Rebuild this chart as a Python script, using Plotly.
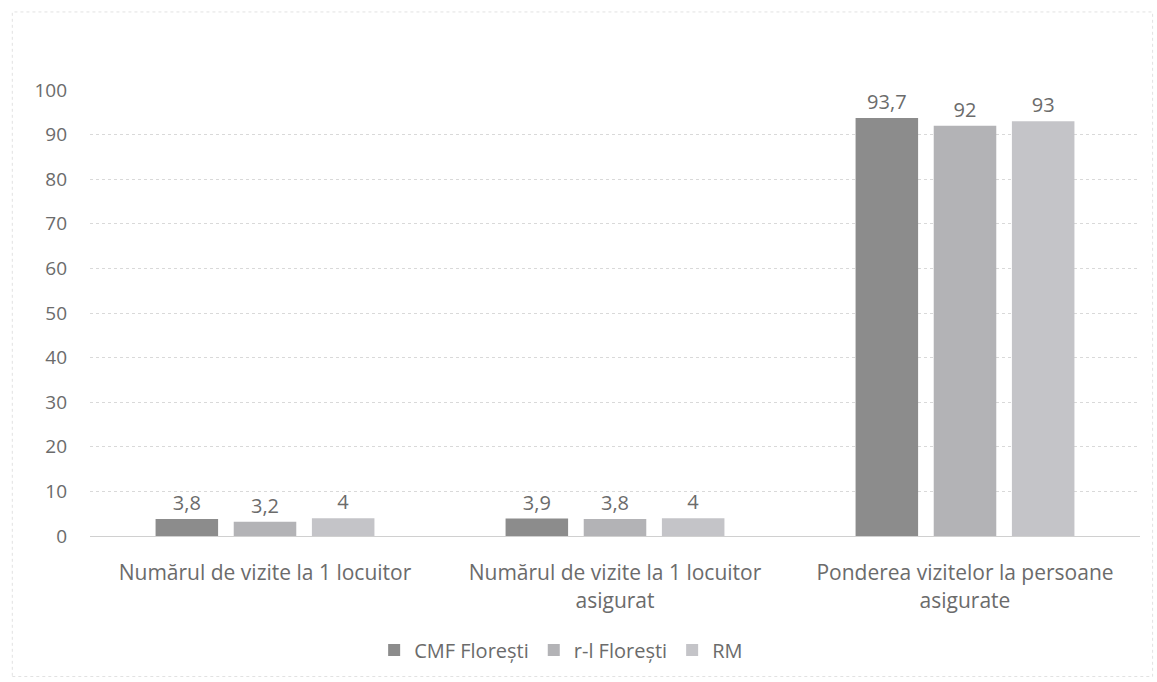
import plotly.graph_objects as go

categories = [
    "Numărul de vizite la 1 locuitor",
    "Numărul de vizite la 1 locuitor<br>asigurat",
    "Ponderea vizitelor la persoane<br>asigurate",
]
series_names = ["CMF Florești", "r-l Florești", "RM"]
cmf_floresti = [3.8, 3.9, 93.7]
rl_floresti = [3.2, 3.8, 92]
rm = [4, 4, 93]
y_ticks = [0, 10, 20, 30, 40, 50, 60, 70, 80, 90, 100]

colors = ["#8c8c8c", "#b3b3b6", "#c4c4c8"]
text_color = "#6b6b6b"
font_family = "Open Sans, Liberation Sans, sans-serif"


def fmt(v):
    s = f"{v:g}"
    return s.replace(".", ",")


fig = go.Figure()
for name, vals, col in zip(series_names, [cmf_floresti, rl_floresti, rm], colors):
    fig.add_trace(go.Bar(
        x=categories,
        y=vals,
        name=name,
        marker=dict(color=col, line=dict(width=0)),
        text=[fmt(v) for v in vals],
        textposition="outside",
        textfont=dict(size=20, color=text_color, family=font_family),
        cliponaxis=False,
    ))

fig.update_layout(
    width=1157,
    height=682,
    margin=dict(l=90, r=17, t=90, b=146, autoexpand=False),
    paper_bgcolor="white",
    plot_bgcolor="white",
    barmode="group",
    bargap=0.33,
    bargroupgap=0.2,
    font=dict(family=font_family, color=text_color, size=19),
    showlegend=True,
    legend=dict(
        orientation="h",
        x=0.485, xanchor="center", xref="container",
        y=0.047, yanchor="middle", yref="container",
        font=dict(size=20, color=text_color),
        itemwidth=30,
        traceorder="normal",
    ),
)

fig.update_yaxes(
    range=[0, 100],
    tickvals=y_ticks,
    showgrid=True,
    gridcolor="#d9d9d9",
    gridwidth=1,
    griddash="dot",
    zeroline=False,
    showline=False,
    ticks="",
    ticklabelstandoff=22,
    automargin=False,
    tickfont=dict(size=19, color=text_color),
)
fig.update_xaxes(
    showline=True,
    linecolor="#d0d0d0",
    linewidth=1,
    ticks="",
    ticklabelstandoff=18,
    automargin=False,
    tickfont=dict(size=21, color=text_color),
)

# Faint outer frame around the chart area
fig.add_shape(
    type="rect", xref="paper", yref="paper",
    x0=-0.074, x1=1.012, y0=-0.315, y1=1.175,
    line=dict(color="#e2e2e2", width=1, dash="dot"),
    layer="below",
)

fig.write_html("out.html")
